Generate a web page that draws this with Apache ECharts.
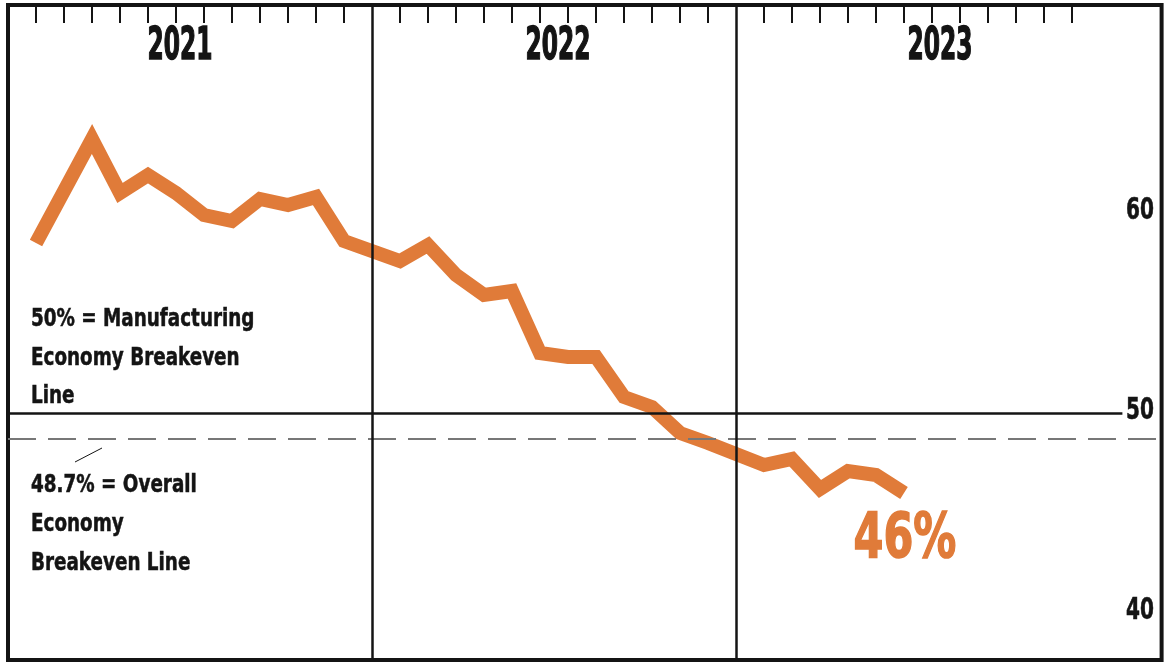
<!DOCTYPE html>
<html>
<head>
<meta charset="utf-8">
<script src="https://cdn.jsdelivr.net/npm/echarts@6/dist/echarts.min.js"></script>
<style>
  html, body { margin: 0; padding: 0; background: #fff; }
  #chart { width: 1165px; height: 664px; }
</style>
</head>
<body>
<div id="chart"></div>
<script>
// Monthly manufacturing index, Jan 2021 – Jun 2023
const years = ['2021', '2022', '2023'];
const months = ['Jan', 'Feb', 'Mar', 'Apr', 'May', 'Jun', 'Jul', 'Aug', 'Sep', 'Oct', 'Nov', 'Dec'];
const values2021 = [58.5, 61.1, 63.7, 61.0, 61.9, 61.0, 59.9, 59.6, 60.7, 60.4, 60.8, 58.6];
const values2022 = [57.6, 58.4, 56.9, 55.9, 56.1, 53.0, 52.8, 52.8, 50.8, 50.3, 49.0, 48.5];
const values2023 = [47.4, 47.7, 46.2, 47.1, 46.9, 46.0];
const yearValues = [values2021, values2022, values2023];

const yTickLabels = [40, 50, 60];
const manufacturingBreakeven = 50;
const overallBreakeven = 48.7;
const manufacturingNote = ['50% = Manufacturing', 'Economy Breakeven', 'Line'];
const overallNote = ['48.7% = Overall', 'Economy', 'Breakeven Line'];

// Each year occupies 12 month slots plus one slot for the divider line.
const SLOTS = months.length + 1;
const X_MIN = -1;
const X_MAX = 40.2;
const SOLID_END = 38.8;

const ORANGE = '#E07B39';
const INK = '#141414';
const FONT = '"DejaVu Sans Condensed", "Liberation Sans Narrow", Arial, sans-serif';

const points = [];
yearValues.forEach((vals, yi) => {
  vals.forEach((v, m) => points.push([yi * SLOTS + m, v]));
});

const monthTicks = [];
years.forEach((y, yi) => {
  months.forEach((m, mi) => monthTicks.push(yi * SLOTS + mi));
});

const dividers = years.slice(1).map((y, i) => (i + 1) * SLOTS - 1);

const chart = echarts.init(document.getElementById('chart'), null, { renderer: 'canvas' });

chart.setOption({
  animation: false,
  backgroundColor: '#fff',
  grid: {
    left: 8, right: 3.4, top: 5, bottom: 4,
    show: true, borderColor: INK, borderWidth: 4, backgroundColor: 'transparent'
  },
  xAxis: {
    type: 'value',
    position: 'top',
    min: X_MIN,
    max: X_MAX,
    axisLine: { show: false },
    splitLine: { show: false },
    axisLabel: { show: false },
    axisTick: {
      show: true, inside: true, length: 18,
      customValues: monthTicks,
      lineStyle: { color: INK, width: 2 }
    }
  },
  yAxis: {
    type: 'value',
    position: 'right',
    min: 37.65,
    max: 70.4,
    axisLine: { show: false },
    axisTick: { show: false },
    splitLine: { show: false },
    axisLabel: { show: false }
  },
  series: [{
    type: 'line',
    data: points,
    symbol: 'none',
    lineStyle: { color: ORANGE, width: 14, join: 'miter', miterLimit: 10, cap: 'butt' },
    z: 2,
    markLine: {
      silent: true,
      symbol: ['none', 'none'],
      label: { show: false },
      animation: false,
      data: [
        [
          { coord: [X_MIN, manufacturingBreakeven], lineStyle: { color: INK, width: 2.5, type: 'solid' } },
          { coord: [SOLID_END, manufacturingBreakeven] }
        ],
        [
          { coord: [X_MIN, overallBreakeven], lineStyle: { color: '#777', width: 2, type: [28, 12] } },
          { coord: [X_MAX, overallBreakeven] }
        ]
      ].concat(dividers.map(d => ({ xAxis: d, lineStyle: { color: INK, width: 2.5, type: 'solid' } })))
    }
  }]
});

// Condensed heavy lettering: scaled text with a thin outline in the fill colour
const textStyle = (txt, size, color, weight, extra) => Object.assign({
  text: txt,
  fill: color,
  stroke: color,
  lineWidth: weight,
  font: 'bold ' + size + 'px ' + FONT
}, extra || {});

const yearCenters = [180, 558, 940];
const graphics = years.map((y, i) => ({
  type: 'text',
  x: yearCenters[i],
  y: 48,
  scaleX: 0.72,
  scaleY: 1.22,
  style: textStyle(y, 36, INK, 1.2, { textAlign: 'center', textVerticalAlign: 'middle' })
}));

// Value scale labels along the right edge
yTickLabels.forEach(v => {
  const py = chart.convertToPixel({ yAxisIndex: 0 }, v);
  graphics.push({
    type: 'text',
    x: 1154,
    y: py - 2,
    scaleX: 0.72,
    style: textStyle(String(v), 31, INK, 0.6, { textAlign: 'right', textVerticalAlign: 'middle' })
  });
});

graphics.push({
  type: 'text',
  x: 31, y: 301,
  scaleX: 0.85,
  style: textStyle(manufacturingNote.join('\n'), 24, INK, 0.5, { lineHeight: 38.5, textAlign: 'left', textVerticalAlign: 'top' })
});
graphics.push({
  type: 'text',
  x: 31, y: 466,
  scaleX: 0.85,
  style: textStyle(overallNote.join('\n'), 24, INK, 0.5, { lineHeight: 39, textAlign: 'left', textVerticalAlign: 'top' })
});
graphics.push({
  type: 'line',
  shape: { x1: 75, y1: 462, x2: 102, y2: 448 },
  style: { stroke: INK, lineWidth: 1 }
});

const last = points[points.length - 1];
const lastPx = chart.convertToPixel({ gridIndex: 0 }, last);
graphics.push({
  type: 'text',
  x: lastPx[0] + 1,
  y: lastPx[1] + 48,
  scaleX: 0.77,
  scaleY: 1.0,
  style: textStyle(last[1] + '%', 62, ORANGE, 1.5, { textAlign: 'center', textVerticalAlign: 'middle' })
});

chart.setOption({ graphic: graphics });
</script>
</body>
</html>
